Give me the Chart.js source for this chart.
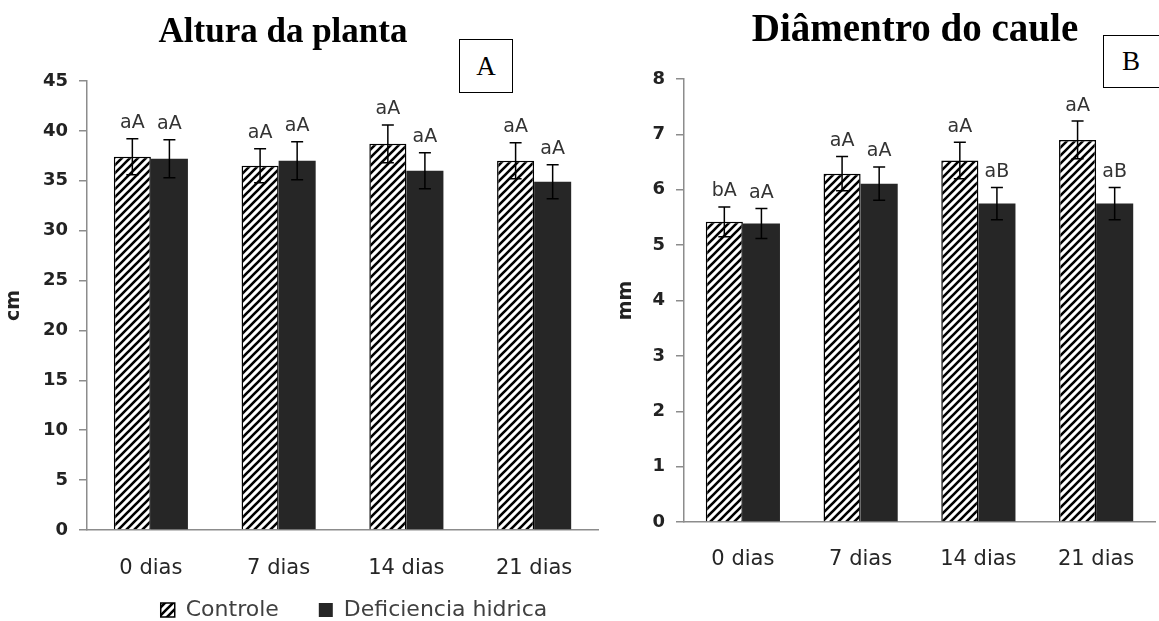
<!DOCTYPE html>
<html>
<head>
<meta charset="utf-8">
<script src="https://cdn.jsdelivr.net/npm/chart.js@4.4.1/dist/chart.umd.min.js"></script>
<style>
  body { margin: 0; background: #fff; width: 1159px; height: 621px; position: relative; overflow: hidden; }
  .painel { position: absolute; top: 0; }
  .titulo { position: absolute; font-family: "Liberation Serif", serif; font-weight: bold; white-space: nowrap; line-height: 1; }
  .letra { position: absolute; border: 1px solid #000; font-family: "Liberation Serif", serif; font-size: 27px; text-align: center; background: #fff; box-sizing: border-box; }
</style>
</head>
<body>
<div class="painel" style="left:0;width:600px;height:652px"><canvas id="graficoA"></canvas></div>
<div class="painel" style="left:600px;width:559px;height:621px"><canvas id="graficoB"></canvas></div>
<div class="titulo" style="left:283px;top:13px;font-size:35px;transform:translateX(-50%)">Altura da planta</div>
<div class="titulo" style="left:915px;top:8px;font-size:39px;transform:translateX(-50%)">Diâmentro do caule</div>
<div class="letra" style="left:459px;top:39px;width:54px;height:54px;line-height:52px">A</div>
<div class="letra" style="left:1103px;top:35px;width:60px;height:53px;line-height:51px;padding-right:4px">B</div>
<script>
// Dados
const dias = ['0 dias', '7 dias', '14 dias', '21 dias'];

const alturaControle = [37.4, 36.5, 38.7, 37.0];
const alturaControleErro = [1.8, 1.7, 1.9, 1.8];
const alturaDeficiencia = [37.2, 37.0, 36.0, 34.9];
const alturaDeficienciaErro = [1.9, 1.9, 1.8, 1.7];
const alturaLetrasControle = ['aA', 'aA', 'aA', 'aA'];
const alturaLetrasDeficiencia = ['aA', 'aA', 'aA', 'aA'];

const diametroControle = [5.42, 6.29, 6.53, 6.90];
const diametroControleErro = [0.27, 0.31, 0.33, 0.34];
const diametroDeficiencia = [5.39, 6.11, 5.75, 5.75];
const diametroDeficienciaErro = [0.27, 0.30, 0.29, 0.29];
const diametroLetrasControle = ['bA', 'aA', 'aA', 'aA'];
const diametroLetrasDeficiencia = ['aA', 'aA', 'aB', 'aB'];

const fonte = '"DejaVu Sans", sans-serif';
const corEixo = '#8c8c8c';
const corEscura = '#262626';

// Hachura diagonal para o controle
function criarHachura() {
    const c = document.createElement('canvas');
    c.width = 8; c.height = 8;
    const g = c.getContext('2d');
    g.fillStyle = '#fff';
    g.fillRect(0, 0, 8, 8);
    g.strokeStyle = '#000';
    g.lineWidth = 2.6;
    g.beginPath();
    g.moveTo(-2, 10); g.lineTo(10, -2);
    g.moveTo(-2, 2); g.lineTo(2, -2);
    g.moveTo(6, 10); g.lineTo(10, 6);
    g.stroke();
    return g.createPattern(c, 'repeat');
}
const hachura = criarHachura();

// Barras de erro e letras
const pluginErro = {
    id: 'barrasErro',
    afterDatasetsDraw(chart) {
        const ctx = chart.ctx;
        const y = chart.scales.y;
        ctx.save();
        chart.data.datasets.forEach((ds, i) => {
            const meta = chart.getDatasetMeta(i);
            meta.data.forEach((bar, j) => {
                const topo = y.getPixelForValue(ds.data[j] + ds.erro[j]);
                const base = y.getPixelForValue(ds.data[j] - ds.erro[j]);
                ctx.strokeStyle = '#000';
                ctx.lineWidth = 1.5;
                ctx.beginPath();
                ctx.moveTo(bar.x, topo); ctx.lineTo(bar.x, base);
                ctx.moveTo(bar.x - 6, topo); ctx.lineTo(bar.x + 6, topo);
                ctx.moveTo(bar.x - 6, base); ctx.lineTo(bar.x + 6, base);
                ctx.stroke();
                ctx.fillStyle = '#333';
                ctx.font = '19px ' + fonte;
                ctx.textAlign = 'center';
                ctx.textBaseline = 'bottom';
                ctx.fillText(ds.letras[j], bar.x, topo - 6);
            });
        });
        ctx.restore();
    }
};

// Desloca a legenda para a posição da figura original
const pluginLegenda = {
    id: 'moverLegenda',
    afterLayout(chart) {
        const lg = chart.legend;
        if (!lg || !chart.options.plugins.legend.display) return;
        lg.left += 55; lg.right += 55;
        lg.top -= 21; lg.bottom -= 21;
    }
};

function opcoes(max, passo, tituloY, larguraY, alturaX, padX, padding, tituloPad, legenda) {
    return {
        responsive: true,
        maintainAspectRatio: false,
        animation: false,
        layout: { padding: padding },
        plugins: {
            tooltip: { enabled: false },
            legend: {
                display: legenda,
                position: 'bottom',
                labels: {
                    font: { family: fonte, size: 22 },
                    color: '#404040',
                    boxWidth: 14,
                    boxHeight: 14,
                    padding: 40
                }
            }
        },
        scales: {
            x: {
                grid: { display: false },
                border: { display: true, color: corEixo, width: 1.5 },
                ticks: { font: { family: fonte, size: 21 }, color: corEscura, padding: padX, maxRotation: 0 },
                afterFit(s) { s.height = alturaX; }
            },
            y: {
                min: 0,
                max: max,
                ticks: { stepSize: passo, font: { family: fonte, size: 18, weight: 'bold' }, color: '#222', padding: 11 },
                grid: { drawOnChartArea: false, drawTicks: true, tickLength: 8, color: corEixo, lineWidth: 1.5 },
                border: { display: true, color: corEixo, width: 1.5 },
                title: {
                    display: true,
                    text: tituloY,
                    font: { family: fonte, size: 19, weight: 'bold' },
                    color: '#222',
                    padding: { top: tituloPad, bottom: 0 }
                },
                afterFit(s) { s.width = larguraY; }
            }
        }
    };
}

function conjuntos(controle, erroC, letrasC, deficiencia, erroD, letrasD, catPct) {
    return [
        {
            label: 'Controle',
            data: controle,
            erro: erroC,
            letras: letrasC,
            backgroundColor: hachura,
            borderColor: '#000',
            borderWidth: 1.5,
            categoryPercentage: catPct,
            barPercentage: 1
        },
        {
            label: 'Deficiencia hidrica',
            data: deficiencia,
            erro: erroD,
            letras: letrasD,
            backgroundColor: corEscura,
            borderColor: corEscura,
            borderWidth: 0,
            categoryPercentage: catPct,
            barPercentage: 1
        }
    ];
}

function init() {
    new Chart(document.getElementById('graficoA'), {
        type: 'bar',
        data: {
            labels: dias,
            datasets: conjuntos(alturaControle, alturaControleErro, alturaLetrasControle,
                alturaDeficiencia, alturaDeficienciaErro, alturaLetrasDeficiencia, 0.58)
        },
        options: opcoes(45, 5, 'cm', 87, 50, 18, { top: 81, left: 0, right: 2, bottom: 0 }, 3, true),
        plugins: [pluginErro, pluginLegenda]
    });

    new Chart(document.getElementById('graficoB'), {
        type: 'bar',
        data: {
            labels: dias,
            datasets: conjuntos(diametroControle, diametroControleErro, diametroLetrasControle,
                diametroDeficiencia, diametroDeficienciaErro, diametroLetrasDeficiencia, 0.63)
        },
        options: opcoes(8, 1, 'mm', 84, 99, 17, { top: 79, left: 0, right: 4, bottom: 0 }, 15, false),
        plugins: [pluginErro]
    });
}

document.addEventListener('DOMContentLoaded', init);
</script>
</body>
</html>
